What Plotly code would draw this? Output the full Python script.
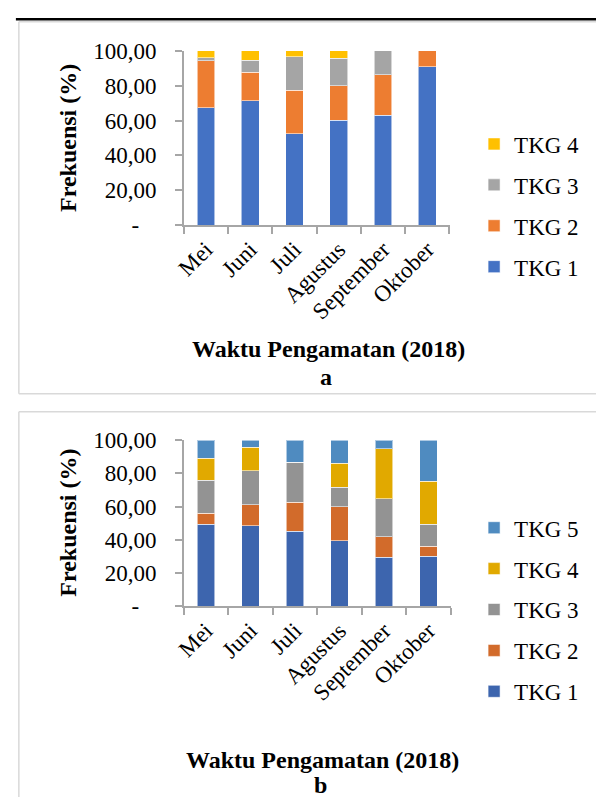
import plotly.graph_objects as go

W, H = 596, 810

months = ["Mei", "Juni", "Juli", "Agustus", "September", "Oktober"]

# Panel a: frequency (%) of TKG stages
a_tkg1 = [67.2, 71.3, 52.4, 60.2, 63.0, 90.9]
a_tkg2 = [27.2, 16.3, 25.0, 19.8, 23.3, 9.1]
a_tkg3 = [1.7, 7.0, 19.1, 15.7, 13.7, 0.0]
a_tkg4 = [3.9, 5.4, 3.5, 4.3, 0.0, 0.0]

# Panel b: frequency (%) of TKG stages
b_tkg1 = [49.3, 48.5, 45.2, 39.6, 29.5, 30.1]
b_tkg2 = [6.8, 12.7, 17.5, 20.2, 12.4, 6.0]
b_tkg3 = [19.6, 20.2, 24.1, 11.7, 22.8, 13.4]
b_tkg4 = [13.4, 14.3, 0.0, 14.7, 30.1, 25.8]
b_tkg5 = [10.9, 4.3, 13.2, 13.8, 5.2, 24.7]

y_ticks = [0, 20, 40, 60, 80, 100]
y_ticktext = ["-\u00a0\u00a0\u00a0", "20,00", "40,00", "60,00", "80,00", "100,00"]

FONT = "Liberation Serif"

a_series = [
    ("TKG 1", a_tkg1, "#4472C4"),
    ("TKG 2", a_tkg2, "#ED7D31"),
    ("TKG 3", a_tkg3, "#A5A5A5"),
    ("TKG 4", a_tkg4, "#FFC000"),
]
b_series = [
    ("TKG 1", b_tkg1, "#3D65AE"),
    ("TKG 2", b_tkg2, "#D26B2B"),
    ("TKG 3", b_tkg3, "#939393"),
    ("TKG 4", b_tkg4, "#E1A900"),
    ("TKG 5", b_tkg5, "#4F8BC0"),
]

fig = go.Figure()

for i, (name, vals, col) in enumerate(a_series):
    fig.add_trace(go.Bar(
        x=months, y=vals, name=name, marker_color=col,
        marker_line=dict(color="rgba(255,255,255,0.55)", width=1),
        width=0.4, xaxis="x", yaxis="y", legend="legend",
        legendgroup="a" + name, legendrank=1000 - i,
    ))

for i, (name, vals, col) in enumerate(b_series):
    fig.add_trace(go.Bar(
        x=months, y=vals, name=name, marker_color=col,
        marker_line=dict(color="rgba(255,255,255,0.55)", width=1),
        width=0.4, xaxis="x2", yaxis="y2", legend="legend2",
        legendgroup="b" + name, legendrank=1000 - i,
    ))


def px_x(p):
    return p / W


def px_y(p):
    return 1 - p / H


axis_common = dict(
    showline=True, linecolor="#A6A6A6", linewidth=1.5,
    ticks="outside", ticklen=7, tickcolor="#A6A6A6", tickwidth=1.5,
    showgrid=False, zeroline=False,
    tickfont=dict(family=FONT, size=23, color="#000000"),
)

legend_common = dict(
    xanchor="left", yanchor="top", traceorder="grouped", tracegroupgap=8,
    font=dict(family=FONT, size=23, color="#000000"), bgcolor="rgba(0,0,0,0)",
)

fig.update_layout(
    width=W, height=H,
    margin=dict(l=0, r=0, t=0, b=0),
    paper_bgcolor="white", plot_bgcolor="white",
    barmode="stack",
    showlegend=True,
    font=dict(family=FONT, color="#000000"),
    xaxis=dict(domain=[px_x(176.7), px_x(447)], anchor="y", type="category",
               tickson="boundaries", tickangle=-45, **axis_common),
    yaxis=dict(domain=[px_y(220), px_y(40)], anchor="x", range=[0, 100],
               tickvals=y_ticks, ticktext=y_ticktext, ticklabelstandoff=14,
               **axis_common),
    xaxis2=dict(domain=[px_x(176.7), px_x(448.3)], anchor="y2", type="category",
                tickson="boundaries", tickangle=-45, **axis_common),
    yaxis2=dict(domain=[px_y(613.3), px_y(441.7)], anchor="x2", range=[0, 100],
                tickvals=y_ticks, ticktext=y_ticktext, ticklabelstandoff=14,
                **axis_common),
    legend=dict(x=px_x(472), y=px_y(114), **legend_common),
    legend2=dict(x=px_x(472), y=px_y(510), **legend_common),
)


def seg(x0, y0, x1, y1, color, width):
    return dict(type="line", xref="paper", yref="paper",
                x0=px_x(x0), y0=px_y(y0), x1=px_x(x1), y1=px_y(y1),
                line=dict(color=color, width=width))


# Panel frames (open on the right / bottom edge) and the rule line above
FRAME = "#D9D9D9"
shapes = [
    seg(6, 7.5, 596, 7.5, "#000000", 2.5),
    seg(9, 10, 596, 10, FRAME, 1.5),
    seg(9, 10, 9, 394, FRAME, 1.5),
    seg(9, 394, 596, 394, FRAME, 1.5),
    seg(9, 412.5, 596, 412.5, FRAME, 1.5),
    seg(9, 412.5, 9, 810, FRAME, 1.5),
]
fig.update_layout(shapes=shapes)

title_font = dict(family=FONT, size=24, color="#000000")


def label(text, x, y, angle=0):
    return dict(text=text, textangle=angle, x=px_x(x), y=px_y(y),
                xref="paper", yref="paper", xanchor="center", yanchor="middle",
                showarrow=False, font=title_font)


annotations = [
    label("<b>Frekuensi (%)</b>", 59, 130, -90),
    label("<b>Waktu Pengamatan (2018)</b>", 324, 348),
    label("<b>a</b>", 321, 377),
    label("<b>Frekuensi (%)</b>", 59, 527, -90),
    label("<b>Waktu Pengamatan (2018)</b>", 318, 772),
    label("<b>b</b>", 316, 798),
]
fig.update_layout(annotations=annotations)

fig.write_html("out.html", post_script="document.body.style.margin='0';")
